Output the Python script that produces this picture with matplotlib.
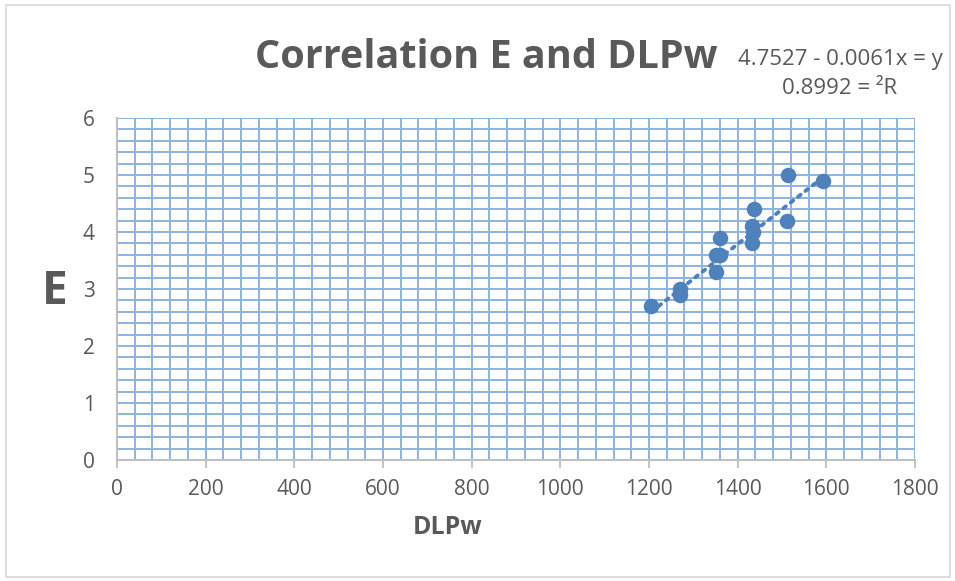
import matplotlib.pyplot as plt
from matplotlib.patches import Rectangle
from matplotlib.ticker import MultipleLocator
import numpy as np

# Data
dlpw = [1205, 1270, 1270, 1350, 1350, 1360, 1360, 1432, 1434, 1432, 1436, 1512, 1514, 1592]
e_val = [2.7, 3.0, 2.9, 3.3, 3.6, 3.6, 3.9, 3.8, 4.0, 4.1, 4.4, 4.2, 5.0, 4.9]

# Trendline coefficients as displayed on the chart
slope = 0.0061
intercept = -4.7527
eq_text = "4.7527 - 0.0061x = y"
r2_text = "0.8992 = \u00b2R"

blue = "#4F81BD"
grid_blue = "#8DB3E2"
gray = "#595959"
font = ["Open Sans", "DejaVu Sans"]

fig = plt.figure(figsize=(9.55, 5.81), dpi=100)
ax = fig.add_axes([117 / 955, 1 - 460 / 581, 798 / 955, 342 / 581])

# Outer chart border
fig.patches.append(Rectangle((6 / 955, 4 / 581), 944 / 955, 572 / 581,
                             transform=fig.transFigure, fill=False,
                             edgecolor="#D9D9D9", linewidth=1.2))

ax.set_xlim(0, 1800)
ax.set_ylim(0, 6)
ax.xaxis.set_major_locator(MultipleLocator(200))
ax.xaxis.set_minor_locator(MultipleLocator(40))
ax.yaxis.set_major_locator(MultipleLocator(1))
ax.yaxis.set_minor_locator(MultipleLocator(0.2))
ax.grid(which="both", color=grid_blue, linewidth=1.4)
ax.set_axisbelow(True)

for side in ["top", "right"]:
    ax.spines[side].set_visible(False)
for side in ["left", "bottom"]:
    ax.spines[side].set_color("#BFBFBF")
    ax.spines[side].set_linewidth(1.5)
    ax.spines[side].set_zorder(3)

ax.tick_params(axis="x", which="major", length=6, width=1.3, color="#BFBFBF",
               labelsize=15, labelcolor=gray, pad=8)
ax.tick_params(axis="y", which="major", length=0, labelsize=15,
               labelcolor=gray, pad=16)
ax.tick_params(which="minor", length=0)
for lbl in ax.get_xticklabels() + ax.get_yticklabels():
    lbl.set_family(font)

# Trendline
xs = np.array([min(dlpw), max(dlpw)])
ax.plot(xs, slope * xs + intercept, color=blue, linewidth=2.8,
        linestyle=(0, (0.8, 1.6)), dash_capstyle="round", zorder=4)

ax.scatter(dlpw, e_val, s=125, color=blue, zorder=5, linewidths=0)

# Titles and labels
fig.text(486 / 955, 1 - 58 / 581, "Correlation E and DLPw", ha="center",
         va="center", fontsize=28.5, fontweight="bold", color=gray, family=font)
fig.text(840 / 955, 1 - 60 / 581, eq_text, ha="center", va="center",
         fontsize=16, color=gray, family=font)
fig.text(840 / 955, 1 - 89 / 581, r2_text, ha="center", va="center",
         fontsize=16, color=gray, family=font)
fig.text(55 / 955, 1 - 292 / 581, "E", ha="center", va="center",
         fontsize=33, fontweight="bold", color=gray, family=font)
fig.text(448 / 955, 1 - 528 / 581, "DLPw", ha="center", va="center",
         fontsize=18, fontweight="bold", color=gray, family=font)

fig.savefig("out.png", dpi=100)
